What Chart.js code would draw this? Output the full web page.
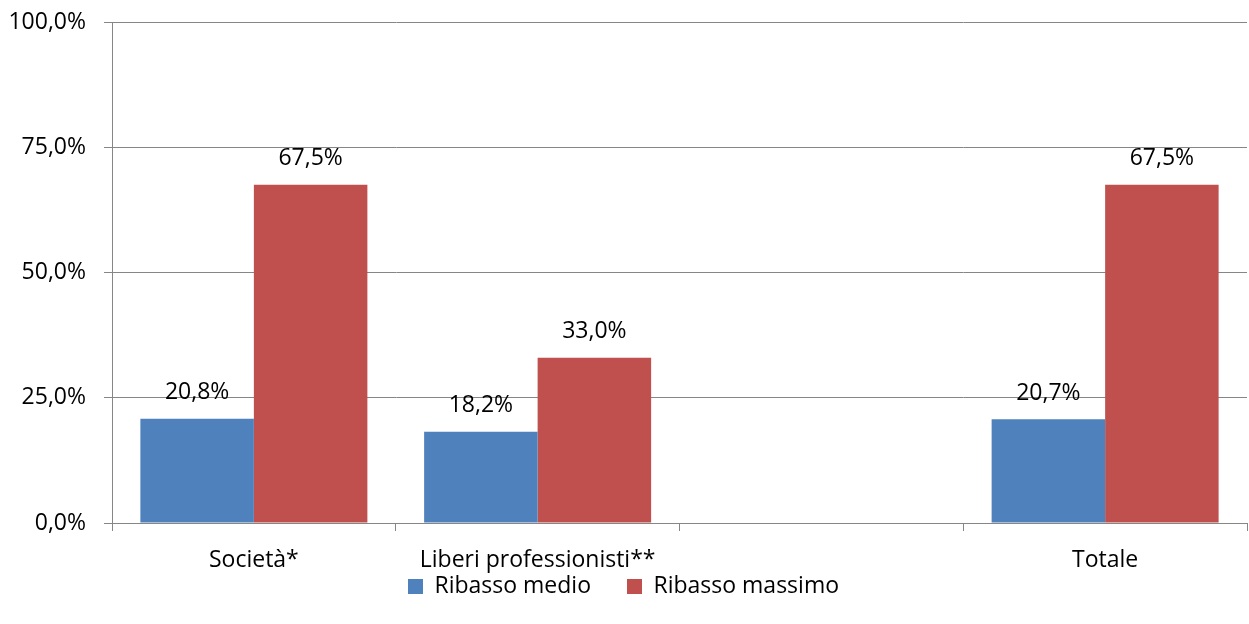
<!DOCTYPE html>
<html lang="it">
<head>
    <meta charset="UTF-8">
    <title>Ribasso medio e massimo</title>
    <script src="https://cdn.jsdelivr.net/npm/chart.js"></script>
    <style>
        body { margin: 0; background: #fff; }
        #wrap { width: 1249px; height: 624px; }
    </style>
</head>
<body>
    <div id="wrap"><canvas id="ribassoChart" width="1249" height="624"></canvas></div>
    <script>
        // categorie e valori (%)
        const categorie = ['Società*', 'Liberi professionisti**', '', 'Totale'];
        const ribassoMedio = [20.8, 18.2, null, 20.7];
        const ribassoMassimo = [67.5, 33.0, null, 67.5];
        const tickY = [0, 25, 50, 75, 100];

        const FONT = '"Open Sans", Lato, sans-serif';
        const SIZE = 23;
        const GRIGIO = '#868686';

        function fmt(v) {
            return v.toFixed(1).replace('.', ',') + '%';
        }

        // etichette sopra le barre
        const etichette = {
            id: 'etichette',
            afterDatasetsDraw(chart) {
                const ctx = chart.ctx;
                ctx.save();
                ctx.font = SIZE + 'px ' + FONT;
                ctx.fillStyle = '#000';
                ctx.textAlign = 'center';
                ctx.textBaseline = 'middle';
                chart.data.datasets.forEach((ds, i) => {
                    chart.getDatasetMeta(i).data.forEach((bar, j) => {
                        if (ds.data[j] == null) return;
                        ctx.fillText(fmt(ds.data[j]), bar.x, bar.y - 26);
                    });
                });
                ctx.restore();
            }
        };

        new Chart(document.getElementById('ribassoChart'), {
            type: 'bar',
            data: {
                labels: categorie,
                datasets: [
                    {
                        label: 'Ribasso medio',
                        data: ribassoMedio,
                        backgroundColor: '#4F81BD',
                        categoryPercentage: 0.8,
                        barPercentage: 1.0
                    },
                    {
                        label: 'Ribasso massimo',
                        data: ribassoMassimo,
                        backgroundColor: '#C0504D',
                        categoryPercentage: 0.8,
                        barPercentage: 1.0
                    }
                ]
            },
            options: {
                responsive: false,
                animation: false,
                layout: { padding: { top: 22, right: 2, left: 0, bottom: 16 } },
                plugins: {
                    tooltip: { enabled: false },
                    legend: {
                        position: 'bottom',
                        labels: {
                            font: { family: FONT, size: SIZE },
                            color: '#000',
                            boxWidth: 15,
                            boxHeight: 15,
                            padding: 36
                        }
                    }
                },
                scales: {
                    x: {
                        grid: {
                            offset: true,
                            drawOnChartArea: false,
                            drawTicks: true,
                            tickLength: 8,
                            color: GRIGIO
                        },
                        border: { color: GRIGIO, width: 1 },
                        ticks: {
                            font: { family: FONT, size: SIZE },
                            color: '#000',
                            padding: 16,
                            maxRotation: 0
                        },
                        afterFit(s) {
                            s.height = 16;
                            // le etichette sporgono nell'area della legenda
                            s._computeLabelArea = () => null;
                        }
                    },
                    y: {
                        min: 0,
                        max: 100,
                        afterBuildTicks(s) { s.ticks = tickY.map(v => ({ value: v })); },
                        grid: { color: GRIGIO, tickLength: 8 },
                        border: { color: GRIGIO, width: 1 },
                        ticks: {
                            font: { family: FONT, size: SIZE },
                            color: '#000',
                            padding: 18,
                            callback: v => fmt(v)
                        },
                        afterFit(s) {
                            s.width = 112;
                            s.paddingTop = 0;
                            s.paddingBottom = 0;
                        }
                    }
                }
            },
            plugins: [etichette]
        });
    </script>
</body>
</html>
